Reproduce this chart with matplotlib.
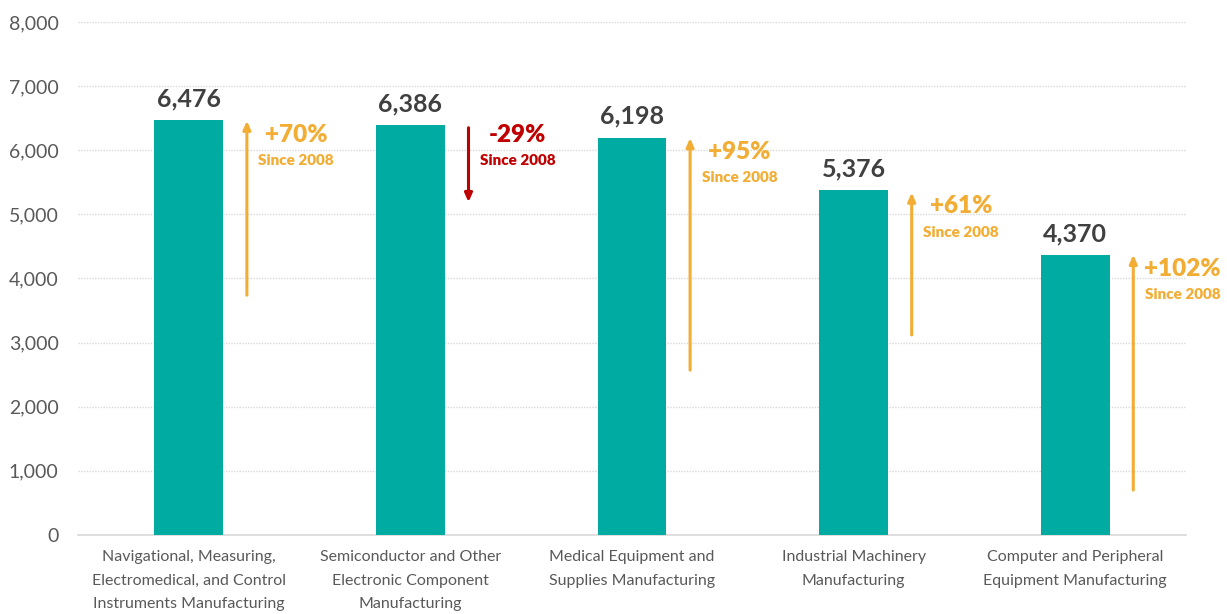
"""
Employment by industry, with change since 2008
"""
import matplotlib
matplotlib.use("Agg")
import matplotlib.pyplot as plt

# Data
categories = [
    "Navigational, Measuring,\nElectromedical, and Control\nInstruments Manufacturing",
    "Semiconductor and Other\nElectronic Component\nManufacturing",
    "Medical Equipment and\nSupplies Manufacturing",
    "Industrial Machinery\nManufacturing",
    "Computer and Peripheral\nEquipment Manufacturing",
]
values = [6476, 6386, 6198, 5376, 4370]
changes = ["+70%", "-29%", "+95%", "+61%", "+102%"]
# arrow start / end values (as drawn)
arrow_from = [3740, 6350, 2570, 3120, 700]
arrow_to = [6460, 5190, 6190, 5340, 4370]
yticks = [0, 1000, 2000, 3000, 4000, 5000, 6000, 7000, 8000]

TEAL = "#00ACA1"
ORANGE = "#F2AD34"
RED = "#C00000"
DARK = "#404040"
GREY = "#595959"

plt.rcParams["font.family"] = ["Lato", "DejaVu Sans"]

fig = plt.figure(figsize=(12.27, 6.14), dpi=100)
ax = fig.add_axes([0.0636, 0.1287, 0.903, 0.8355])

x = list(range(len(categories)))
ax.bar(x, values, width=0.31, color=TEAL, zorder=3)

for xi, v in zip(x, values):
    ax.annotate(f"{v:,}", (xi, v), xytext=(0, 7), textcoords="offset points",
                ha="center", va="bottom", fontsize=18, fontweight="bold",
                color=DARK)

for xi, a0, a1, lab in zip(x, arrow_from, arrow_to, changes):
    down = lab.startswith("-")
    col = RED if down else ORANGE
    ax.annotate("", xy=(xi + 0.262, a1), xytext=(xi + 0.262, a0),
                arrowprops=dict(arrowstyle="-|>,head_length=0.5,head_width=0.22",
                                color=col, lw=2.2, shrinkA=0, shrinkB=0),
                zorder=4)
    top = max(a0, a1)
    dy = 3 if down else -2
    ax.annotate(lab, (xi + 0.485, top), xytext=(0, dy), textcoords="offset points",
                ha="center", va="top", fontsize=17.5, fontweight="heavy", color=col)
    ax.annotate("Since 2008", (xi + 0.485, top), xytext=(0, dy - 22),
                textcoords="offset points", ha="center", va="top",
                fontsize=11, fontweight="heavy", color=col)

ax.set_xlim(-0.5, 4.5)
ax.set_ylim(0, 8000)
ax.set_yticks(yticks)
ax.set_yticklabels([f"{t:,}" for t in yticks])
ax.set_xticks(x)
ax.set_xticklabels(categories, fontsize=11.5, color=GREY, linespacing=1.85)

ax.tick_params(axis="y", length=0, pad=14, labelsize=14, labelcolor=GREY)
ax.tick_params(axis="x", length=0, pad=11)
ax.grid(axis="y", color="#D9D9D9", linestyle=(0, (1, 1)), linewidth=1, zorder=0)
for s in ["top", "right", "left"]:
    ax.spines[s].set_visible(False)
ax.spines["bottom"].set_color("#D9D9D9")
ax.spines["bottom"].set_linewidth(1.2)

fig.savefig("out.png", dpi=100)
